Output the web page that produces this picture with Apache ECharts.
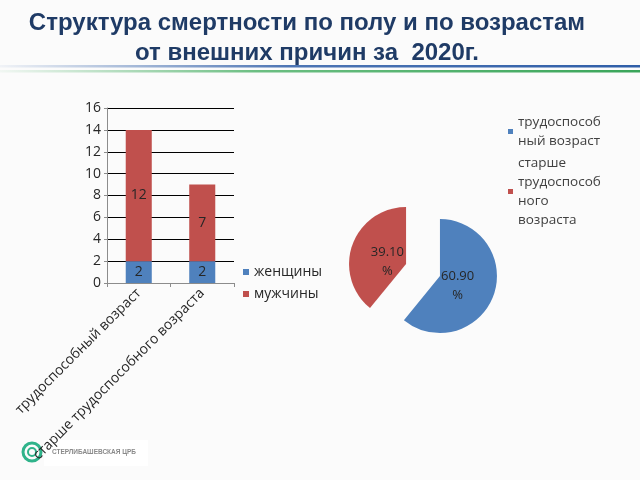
<!DOCTYPE html>
<html>
<head>
<meta charset="utf-8">
<script src="https://cdn.jsdelivr.net/npm/echarts@6/dist/echarts.min.js"></script>
<style>
  html, body { margin: 0; padding: 0; background: #fbfbfb; }
  #chart { width: 640px; height: 480px; }
</style>
</head>
<body>
<div id="chart"></div>
<script>
// данные столбчатой диаграммы
var categories = ['трудоспособный возраст', 'старше трудоспособного возраста']
var women = [2, 2]
var men = [12, 7]
// данные круговой диаграммы (%)
var pieNames = ['трудоспособный возраст', 'старше трудоспособного возраста']
var pieValues = [60.9, 39.1]
var pieLegendText = ['трудоспособ\nный возраст', 'старше\nтрудоспособ\nного\nвозраста']

var blue = '#4f81bd'
var red = '#c0504d'
var textColor = '#262626'
var font = 'Open Sans'
// сдвиг подписей секторов к центру
var pieLabelShift = [[-12, -1], [11, 8]]

var myChart = echarts.init(document.getElementById('chart'))

var option = {
  backgroundColor: '#fbfbfb',
  title: {
    text: 'Структура смертности по полу и по возрастам\nот внешних причин за  2020г.',
    left: 307,
    top: 8,
    padding: 0,
    textAlign: 'center',
    textStyle: {
      fontFamily: 'Liberation Sans',
      fontWeight: 'bold',
      fontSize: 24,
      lineHeight: 30,
      color: '#1f3b66'
    }
  },
  legend: [
    {
      // легенда столбцов
      data: ['женщины', 'мужчины'],
      orient: 'vertical',
      left: 243,
      top: 264,
      padding: 0,
      itemWidth: 6,
      itemHeight: 6,
      itemGap: 6,
      icon: 'rect',
      textStyle: { fontFamily: font, fontSize: 14, lineHeight: 16, color: textColor }
    },
    {
      data: [pieNames[0]],
      left: 508,
      top: 103,
      padding: 0,
      itemWidth: 5,
      itemHeight: 5,
      icon: 'rect',
      formatter: function () { return pieLegendText[0] },
      textStyle: { fontFamily: font, fontSize: 13.5, lineHeight: 19, color: '#404040', padding: [19, 0, 0, 0] }
    },
    {
      data: [pieNames[1]],
      left: 508,
      top: 125,
      padding: 0,
      itemWidth: 5,
      itemHeight: 5,
      icon: 'rect',
      formatter: function () { return pieLegendText[1] },
      textStyle: { fontFamily: font, fontSize: 13.5, lineHeight: 19, color: '#404040', padding: [57, 0, 0, 0] }
    }
  ],
  grid: {
    left: 107,
    right: 406,
    top: 108,
    bottom: 197
  },
  xAxis: {
    type: 'category',
    data: categories,
    axisLine: { lineStyle: { color: '#8c8c8c' } },
    axisTick: { show: true, length: 4, lineStyle: { color: '#8c8c8c' } },
    axisLabel: {
      rotate: 45,
      margin: 8,
      interval: 0,
      fontFamily: font,
      fontSize: 14,
      color: textColor
    }
  },
  yAxis: {
    type: 'value',
    min: 0,
    max: 16,
    interval: 2,
    axisLine: { show: true, lineStyle: { color: '#8c8c8c' } },
    axisTick: { show: true, length: 3, lineStyle: { color: '#8c8c8c' } },
    axisLabel: { margin: 6, fontFamily: font, fontSize: 14, color: textColor },
    splitLine: { lineStyle: { color: '#000', width: 1 } }
  },
  series: [
    {
      name: 'женщины',
      type: 'bar',
      stack: 'total',
      barWidth: '41%',
      data: women,
      itemStyle: { color: blue },
      label: { show: true, position: 'inside', fontFamily: font, fontSize: 14, color: textColor }
    },
    {
      name: 'мужчины',
      type: 'bar',
      stack: 'total',
      data: men,
      itemStyle: { color: red },
      label: { show: true, position: 'inside', fontFamily: font, fontSize: 14, color: textColor }
    },
    {
      name: 'возраст',
      type: 'pie',
      center: [423, 270],
      radius: 57,
      startAngle: 90,
      selectedMode: 'multiple',
      selectedOffset: 18,
      animation: false,
      data: pieNames.map(function (n, i) {
        return {
          name: n,
          value: pieValues[i],
          selected: true,
          itemStyle: { color: i === 0 ? blue : red }
        }
      }),
      label: {
        show: true,
        position: 'inner',
        fontFamily: font,
        fontSize: 13,
        lineHeight: 19,
        color: textColor,
        formatter: function (p) { return p.value.toFixed(2) + '\n%' }
      },
      labelLayout: function (params) {
        var s = pieLabelShift[params.dataIndex]
        return { dx: s[0], dy: s[1] }
      },
      labelLine: { show: false },
      emphasis: { disabled: true }
    }
  ],
  graphic: [
    // линии под заголовком
    {
      type: 'rect',
      shape: { x: 0, y: 65, width: 640, height: 2.5 },
      style: {
        fill: new echarts.graphic.LinearGradient(0, 0, 1, 0, [
          { offset: 0, color: 'rgba(47,94,168,0.05)' },
          { offset: 0.45, color: 'rgba(47,94,168,0.85)' },
          { offset: 1, color: '#2f5ea8' }
        ])
      }
    },
    {
      type: 'rect',
      shape: { x: 0, y: 70, width: 640, height: 2.5 },
      style: {
        fill: new echarts.graphic.LinearGradient(0, 0, 1, 0, [
          { offset: 0, color: 'rgba(60,170,90,0.05)' },
          { offset: 0.4, color: 'rgba(60,170,90,0.75)' },
          { offset: 1, color: '#3aa55a' }
        ])
      }
    },
    // логотип
    {
      type: 'group',
      z: -10,
      children: [
        { type: 'rect', shape: { x: 44, y: 440, width: 104, height: 26 }, style: { fill: '#ffffff' } },
        { type: 'circle', shape: { cx: 32, cy: 452, r: 9 }, style: { fill: 'none', stroke: '#2fb38a', lineWidth: 3 } },
        { type: 'circle', shape: { cx: 32, cy: 452, r: 4 }, style: { fill: 'none', stroke: '#2fb38a', lineWidth: 2 } },
        { type: 'text', style: { x: 52, y: 452, text: 'СТЕРЛИБАШЕВСКАЯ ЦРБ', fontSize: 6.5, fontWeight: 'bold', fontFamily: 'Liberation Sans', fill: '#8a8a8a', verticalAlign: 'middle' } }
      ]
    }
  ]
}

myChart.setOption(option)
</script>
</body>
</html>
